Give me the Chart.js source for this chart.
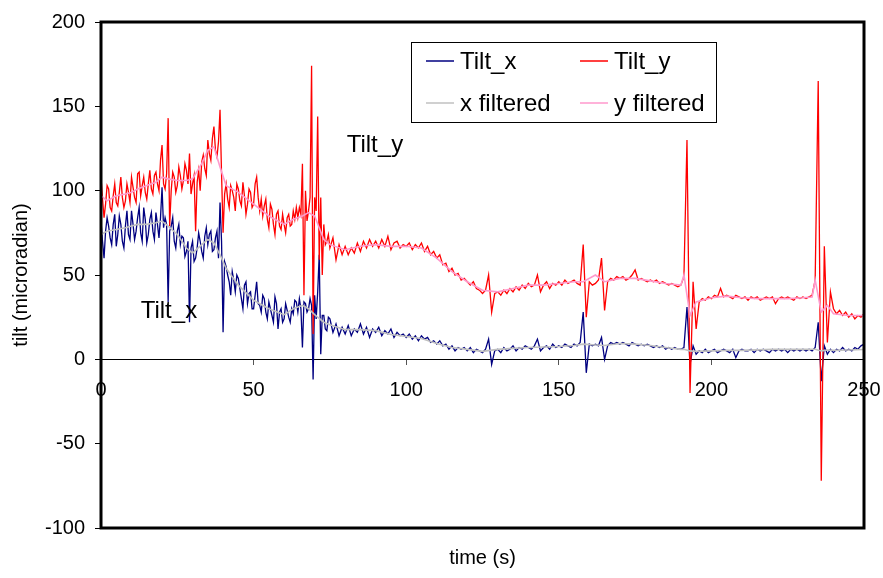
<!DOCTYPE html>
<html>
<head>
<meta charset="utf-8">
<script src="https://cdn.jsdelivr.net/npm/chart.js@4.4.1/dist/chart.umd.min.js"></script>
<style>
  html, body { margin: 0; padding: 0; background: #fff; }
</style>
</head>
<body>
<canvas id="tiltChart" width="883" height="578"></canvas>
<script>
// raw records: half-second samples up to 75 s, then one per second
const timeS = [
  0, 0.5, 1, 1.5, 2, 2.5, 3, 3.5, 4, 4.5, 5, 5.5, 6, 6.5, 7, 7.5, 8, 8.5, 9, 9.5,
  10, 10.5, 11, 11.5, 12, 12.5, 13, 13.5, 14, 14.5, 15, 15.5, 16, 16.5, 17, 17.5, 18, 18.5, 19, 19.5,
  20, 20.5, 21, 21.5, 22, 22.5, 23, 23.5, 24, 24.5, 25, 25.5, 26, 26.5, 27, 27.5, 28, 28.5, 29, 29.5,
  30, 30.5, 31, 31.5, 32, 32.5, 33, 33.5, 34, 34.5, 35, 35.5, 36, 36.5, 37, 37.5, 38, 38.5, 39, 39.5,
  40, 40.5, 41, 41.5, 42, 42.5, 43, 43.5, 44, 44.5, 45, 45.5, 46, 46.5, 47, 47.5, 48, 48.5, 49, 49.5,
  50, 50.5, 51, 51.5, 52, 52.5, 53, 53.5, 54, 54.5, 55, 55.5, 56, 56.5, 57, 57.5, 58, 58.5, 59, 59.5,
  60, 60.5, 61, 61.5, 62, 62.5, 63, 63.5, 64, 64.5, 65, 65.5, 66, 66.5, 67, 67.5, 68, 68.5, 69, 69.5,
  70, 70.5, 71, 71.5, 72, 72.5, 73, 73.5, 74, 74.5, 75,
  76, 77, 78, 79,
  80, 81, 82, 83, 84, 85, 86, 87, 88, 89, 90, 91, 92, 93, 94, 95, 96, 97, 98, 99,
  100, 101, 102, 103, 104, 105, 106, 107, 108, 109, 110, 111, 112, 113, 114, 115, 116, 117, 118, 119,
  120, 121, 122, 123, 124, 125, 126, 127, 128, 129, 130, 131, 132, 133, 134, 135, 136, 137, 138, 139,
  140, 141, 142, 143, 144, 145, 146, 147, 148, 149, 150, 151, 152, 153, 154, 155, 156, 157, 158, 159,
  160, 161, 162, 163, 164, 165, 166, 167, 168, 169, 170, 171, 172, 173, 174, 175, 176, 177, 178, 179,
  180, 181, 182, 183, 184, 185, 186, 187, 188, 189, 190, 191, 192, 193, 194, 195, 196, 197, 198, 199,
  200, 201, 202, 203, 204, 205, 206, 207, 208, 209, 210, 211, 212, 213, 214, 215, 216, 217, 218, 219,
  220, 221, 222, 223, 224, 225, 226, 227, 228, 229, 230, 231, 232, 233, 234, 235, 236, 237, 238, 239,
  240, 241, 242, 243, 244, 245, 246, 247, 248, 249, 250
];

const tiltX = [
  82, 70, 60, 76, 84, 79, 72, 68, 80, 86, 67, 74, 85, 80, 70, 66, 79, 88, 74, 71,
  88, 80, 71, 76, 84, 90, 75, 70, 90, 83, 69, 74, 83, 87, 76, 71, 87, 80, 72, 84,
  102, 78, 84, 80, 34, 76, 79, 84, 70, 66, 76, 80, 68, 73, 72, 61, 64, 70, 22, 66,
  70, 58, 60, 66, 75, 70, 64, 60, 73, 78, 68, 74, 76, 64, 65, 72, 76, 60, 93, 70,
  16, 58, 55, 50, 46, 38, 52, 47, 40, 50, 48, 42, 36, 30, 44, 46, 33, 39, 40, 30,
  30, 38, 46, 33, 32, 28, 38, 36, 28, 24, 34, 30, 26, 22, 37, 33, 18, 28, 30, 22,
  24, 33, 29, 25, 22, 30, 27, 35, 34, 28, 36, 30, 7, 34, 33, 28, 30, 36, 32, -12,
  38, 24, 40, 62, 3, 26, 26, 18, 17, 25, 24,
  16, 21, 14, 19,
  15, 20, 14, 18, 16, 21, 15, 19, 13, 18,
  16, 19, 14, 17, 15, 18, 13, 16, 14, 15,
  13, 15, 12, 14, 11, 14, 12, 13, 10, 11,
  9, 11, 8, 9, 6, 8, 5, 7, 6, 7,
  5, 7, 4, 6, 5, 4, 6, 12, -3, 5,
  6, 4, 7, 5, 6, 8, 5, 7, 6, 8,
  7, 6, 8, 12, 5, 7, 8, 6, 9, 7,
  8, 7, 9, 8, 7, 9, 8, 10, 28, -8,
  9, 8, 9, 8, 13, 0, 8, 10, 9, 10,
  9, 10, 9, 8, 10, 9, 8, 9, 8, 9,
  8, 7, 8, 7, 8, 6, 7, 6, 7, 6,
  6, 7, 31, -3, 8, 3, 5, 4, 6, 4,
  5, 6, 4, 5, 6, 5, 4, 6, 1, 5,
  6, 5, 5, 6, 4, 6, 5, 6, 5, 4,
  6, 5, 6, 5, 6, 4, 6, 5, 6, 5,
  6, 5, 6, 5, 7, 22, -13, 8, 3, 6,
  4, 6, 5, 7, 5, 6, 5, 7, 6, 8,
  9
];

const tiltY = [
  108, 95, 84, 92, 103, 101, 90, 88, 97, 104, 93, 91, 99, 108, 96, 90, 94, 104, 99, 93,
  108, 102, 96, 93, 110, 111, 97, 103, 108, 99, 95, 104, 112, 101, 98, 109, 111, 104, 100, 118,
  127, 104, 101, 110, 143, 79, 100, 111, 108, 99, 103, 114, 109, 101, 106, 116, 112, 104, 122, 98,
  104, 109, 76, 105, 112, 100, 117, 121, 113, 109, 130, 122, 118, 131, 138, 124, 120, 129, 148, 110,
  75, 98, 104, 95, 90, 103, 100, 96, 88, 104, 101, 94, 91, 105, 97, 86, 92, 101, 99, 90,
  92, 104, 108, 96, 88, 95, 85, 91, 95, 83, 78, 92, 89, 80, 74, 86, 88, 79, 77, 86,
  80, 75, 84, 86, 79, 80, 88, 83, 90, 84, 90, 86, 116, 38, 100, 82, 88, 96, 174, 15,
  96, 88, 144, 59, 96, 50, 80, 68, 70, 74, 66,
  72, 59, 68, 62,
  67, 62, 66, 63, 69, 64, 70, 66, 71, 67,
  70, 66, 71, 67, 73, 65, 69, 70, 66, 68,
  67, 69, 65, 68, 66, 69, 64, 67, 62, 64,
  60, 62, 56, 57, 52, 54, 50, 51, 47, 48,
  46, 44, 46, 42, 41, 39, 41, 50, 28, 39,
  40, 38, 41, 39, 42, 40, 43, 41, 44, 42,
  45, 43, 44, 50, 40, 44, 46, 42, 45, 44,
  46, 44, 47, 45, 46, 47, 45, 44, 68, 25,
  46, 44, 45, 47, 60, 29, 46, 48, 47, 49,
  48, 49, 47, 48, 50, 53, 47, 48, 47, 46,
  47, 46, 47, 45, 46, 45, 44, 45, 44, 43,
  44, 49, 130, -20, 46, 18, 34, 36, 35, 37,
  36, 38, 37, 42, 37, 38, 37, 36, 38, 37,
  36, 37, 35, 37, 36, 37, 35, 36, 37, 36,
  37, 33, 36, 37, 36, 37, 36, 35, 37, 36,
  37, 36, 37, 38, 47, 165, -72, 67, 10, 40,
  30, 27, 29, 26, 28, 25, 27, 24, 26, 25,
  27
];

// filtered curves, read at coarser times
const filtTime = [
  0, 2, 5, 8, 10, 12, 15, 18, 20, 22, 25, 28, 30, 33, 35, 37, 39, 41, 45, 50,
  55, 60, 63, 66, 68, 70, 73, 75, 80, 85, 90, 95, 100, 105, 110, 115, 120, 125, 130, 135,
  140, 145, 150, 155, 158, 162, 165, 170, 175, 180, 185, 190, 191, 193, 195, 200, 205, 210, 215, 220,
  225, 230, 233, 234, 236, 238, 240, 245, 250
];
const xFiltered = [
  74, 76, 77, 78, 79, 80, 80, 81, 82, 79, 74, 66, 63, 68, 71, 69, 62, 54, 44, 35,
  30, 26.5, 30, 32, 30, 26.5, 22, 20.5, 17.6, 17.6, 17, 14.7, 13.5, 12.4, 9.4, 7, 5.9, 4.7, 5.9, 6.5,
  7, 7.3, 7.6, 8.2, 9, 8.5, 8.2, 9.4, 9, 8.2, 7, 5.9, 6, 5, 4.7, 5, 5.3, 5.3, 5.6, 5.9,
  5.9, 5.9, 6, 6, 5, 5.5, 5.3, 5.5, 5.8
];
const yFiltered = [
  97, 94, 97, 98, 99, 101, 103, 105, 108, 107, 106, 106, 107, 116, 124, 126, 114, 103, 99, 92,
  85, 80, 83, 85, 87, 85, 71, 68, 65, 67, 68, 67, 67, 66, 60, 52, 46, 41, 40, 42,
  44, 44, 45, 46, 46, 50, 46, 48, 48, 46.5, 45, 44, 50, 26, 34, 36.5, 37.5, 36.5, 36, 36,
  36, 36.5, 37, 47, 28, 32, 27, 26, 26
];

const FONT = "'Liberation Sans', Arial, sans-serif";
Chart.defaults.font.family = FONT;
Chart.defaults.color = '#000';

const toPoints = (xs, ys) => xs.map((x, i) => ({ x: x, y: ys[i] }));

// thick black box round the plot area
const plotFrame = {
  id: 'plotFrame',
  afterDraw(chart) {
    const { ctx, chartArea: a } = chart;
    ctx.save();
    ctx.strokeStyle = '#000';
    ctx.lineWidth = 3;
    ctx.strokeRect(a.left, a.top, a.right - a.left, a.bottom - a.top);
    ctx.restore();
  }
};

// boxed legend in two columns, as in the sheet
const boxLegend = {
  id: 'boxLegend',
  afterDraw(chart) {
    const { ctx } = chart;
    const ds = chart.data.datasets;
    ctx.save();
    ctx.fillStyle = '#fff';
    ctx.fillRect(411, 42, 306, 81);
    ctx.strokeStyle = '#000';
    ctx.lineWidth = 1;
    ctx.strokeRect(411.5, 42.5, 305, 80);
    ctx.font = '24px ' + FONT;
    ctx.textBaseline = 'middle';
    const cols = [426, 580];
    const rows = [61, 103];
    ds.forEach((d, i) => {
      const cx = cols[i % 2], cy = rows[Math.floor(i / 2)];
      ctx.strokeStyle = d.borderColor;
      ctx.lineWidth = 1.5;
      ctx.beginPath();
      ctx.moveTo(cx, cy);
      ctx.lineTo(cx + 28, cy);
      ctx.stroke();
      ctx.fillStyle = '#000';
      ctx.fillText(d.label, cx + 34, cy + 1);
    });
    ctx.restore();
  }
};

// the two free text notes inside the plot
const seriesNotes = {
  id: 'seriesNotes',
  afterDatasetsDraw(chart) {
    const { ctx, scales: { x, y } } = chart;
    ctx.save();
    ctx.font = '24px ' + FONT;
    ctx.fillStyle = '#000';
    ctx.textBaseline = 'alphabetic';
    ctx.fillText('Tilt_y', x.getPixelForValue(80.5), y.getPixelForValue(123));
    ctx.fillText('Tilt_x', x.getPixelForValue(13), y.getPixelForValue(24.5));
    ctx.restore();
  }
};

const tiltChart = new Chart(document.getElementById('tiltChart').getContext('2d'), {
  type: 'line',
  data: {
    datasets: [
      { label: 'Tilt_x', data: toPoints(timeS, tiltX), borderColor: '#000080', borderWidth: 1.3, pointRadius: 0, order: 4 },
      { label: 'Tilt_y', data: toPoints(timeS, tiltY), borderColor: '#FF0000', borderWidth: 1.3, pointRadius: 0, order: 3 },
      { label: 'x filtered', data: toPoints(filtTime, xFiltered), borderColor: '#C0C0C0', borderWidth: 1.6, pointRadius: 0, order: 2 },
      { label: 'y filtered', data: toPoints(filtTime, yFiltered), borderColor: '#FF99CC', borderWidth: 1.6, pointRadius: 0, order: 1 }
    ]
  },
  options: {
    responsive: false,
    animation: false,
    layout: { padding: { left: 0, right: 19, top: 18, bottom: 0 } },
    plugins: {
      legend: { display: false },
      tooltip: { enabled: false },
      title: {
        display: true,
        text: 'time (s)',
        position: 'bottom',
        fullSize: false,
        font: { size: 20, weight: 'normal' },
        padding: { top: 18, bottom: 8 }
      }
    },
    scales: {
      x: {
        type: 'linear',
        min: 0,
        max: 250,
        position: { y: 0 },
        ticks: { stepSize: 50, maxRotation: 0, padding: 14, font: { size: 20 } },
        grid: { drawOnChartArea: false, tickLength: 5, color: '#555' },
        border: { display: true, color: '#000', width: 1 },
        afterFit(scale) { scale.paddingLeft = 0; scale.paddingRight = 0; }
      },
      y: {
        min: -100,
        max: 200,
        ticks: { stepSize: 50, padding: 10, font: { size: 20 } },
        grid: { drawOnChartArea: false, tickLength: 6, color: '#000' },
        border: { display: false },
        title: { display: true, text: 'tilt (microradian)', font: { size: 20 }, padding: { top: 9, bottom: 0 } },
        afterFit(scale) { scale.width = 101; }
      }
    }
  },
  plugins: [plotFrame, boxLegend, seriesNotes]
});
</script>
</body>
</html>
